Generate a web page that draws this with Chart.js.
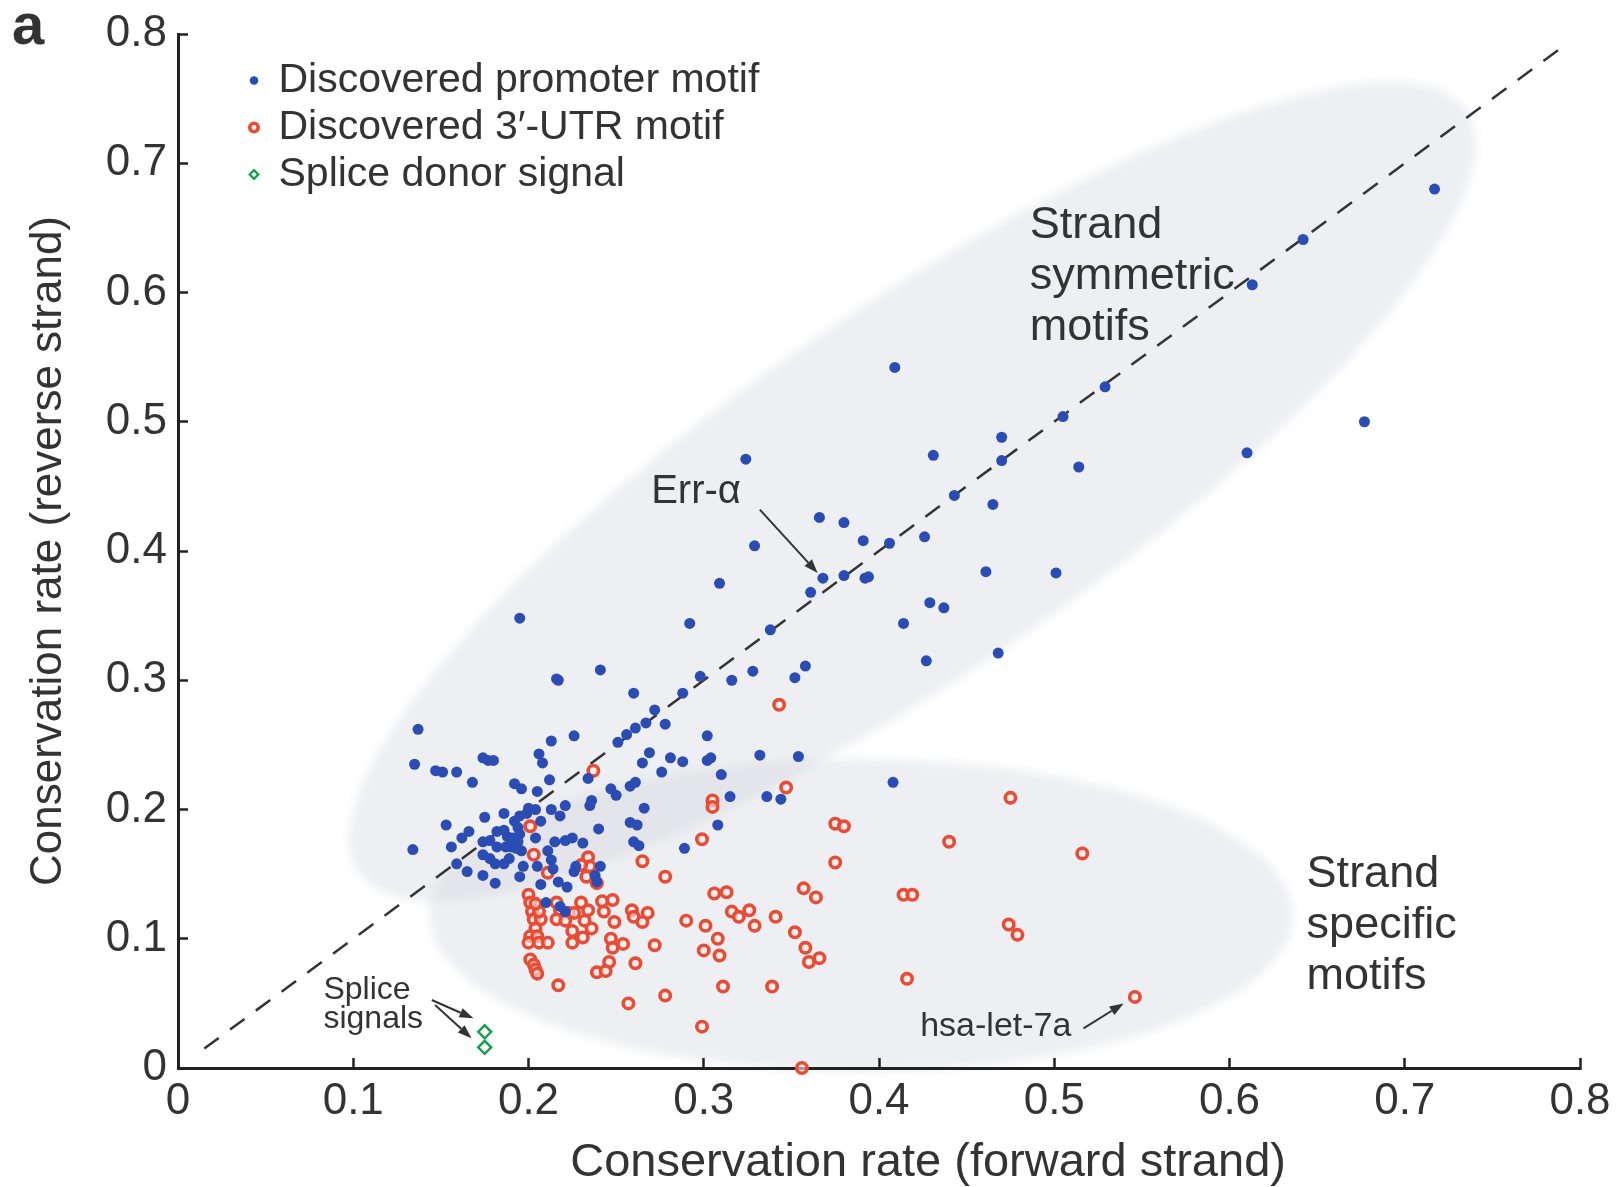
<!DOCTYPE html>
<html>
<head>
<meta charset="utf-8">
<script src="https://cdn.jsdelivr.net/npm/chart.js@4.4.1/dist/chart.umd.min.js"></script>
<style>
  html, body { margin: 0; padding: 0; background: #fff; }
</style>
</head>
<body>
<canvas id="myChart" width="1623" height="1187"></canvas>
<script>
///// conservation scatter

const tickValues = [0, 0.1, 0.2, 0.3, 0.4, 0.5, 0.6, 0.7, 0.8];
const seriesNames = ['Discovered promoter motif', 'Discovered 3\u2032-UTR motif', 'Splice donor signal'];

const promoterMotif = [
  [0.717, 0.680], [0.642, 0.641], [0.613, 0.606], [0.529, 0.527], [0.505, 0.504], [0.470, 0.488],
  [0.470, 0.470], [0.514, 0.465], [0.610, 0.476], [0.677, 0.500], [0.501, 0.383],
  [0.409, 0.542], [0.324, 0.471], [0.431, 0.474], [0.443, 0.443], [0.465, 0.436], [0.366, 0.426],
  [0.380, 0.422], [0.391, 0.408], [0.406, 0.406], [0.426, 0.411], [0.329, 0.404], [0.368, 0.379],
  [0.361, 0.368], [0.380, 0.381], [0.392, 0.379], [0.394, 0.380], [0.461, 0.384], [0.309, 0.375],
  [0.195, 0.348], [0.292, 0.344], [0.429, 0.360], [0.437, 0.356], [0.414, 0.344], [0.338, 0.339],
  [0.427, 0.315], [0.468, 0.321], [0.216, 0.301], [0.217, 0.300], [0.241, 0.308], [0.298, 0.303],
  [0.328, 0.307], [0.358, 0.311], [0.352, 0.302], [0.316, 0.300], [0.260, 0.290], [0.288, 0.290],
  [0.137, 0.262], [0.213, 0.253], [0.226, 0.257], [0.251, 0.252], [0.256, 0.258], [0.261, 0.263],
  [0.267, 0.267], [0.272, 0.277], [0.278, 0.266], [0.302, 0.257], [0.269, 0.244], [0.265, 0.236],
  [0.281, 0.240], [0.288, 0.237], [0.276, 0.229], [0.266, 0.201], [0.289, 0.170],
  [0.332, 0.242], [0.354, 0.241], [0.302, 0.238], [0.304, 0.240], [0.310, 0.227], [0.315, 0.210],
  [0.336, 0.210], [0.344, 0.208], [0.308, 0.188], [0.408, 0.221],
  [0.135, 0.235], [0.147, 0.230], [0.151, 0.229], [0.159, 0.229], [0.168, 0.221], [0.174, 0.240],
  [0.177, 0.238], [0.180, 0.238], [0.206, 0.243], [0.208, 0.236], [0.212, 0.223], [0.192, 0.220],
  [0.196, 0.216], [0.205, 0.214], [0.234, 0.224], [0.236, 0.207], [0.235, 0.203], [0.221, 0.203],
  [0.213, 0.200], [0.218, 0.195], [0.247, 0.216], [0.250, 0.211], [0.258, 0.218], [0.261, 0.221],
  [0.258, 0.190], [0.262, 0.188], [0.260, 0.175], [0.263, 0.172], [0.240, 0.185], [0.241, 0.156],
  [0.238, 0.149], [0.239, 0.144],
  [0.186, 0.197], [0.175, 0.194], [0.153, 0.188], [0.134, 0.169], [0.156, 0.171], [0.162, 0.178],
  [0.166, 0.183], [0.159, 0.158], [0.165, 0.152], [0.174, 0.149], [0.181, 0.143], [0.174, 0.175],
  [0.178, 0.176], [0.182, 0.183], [0.186, 0.184], [0.188, 0.179], [0.182, 0.171], [0.187, 0.171],
  [0.190, 0.171], [0.174, 0.165], [0.178, 0.162], [0.181, 0.158], [0.186, 0.158], [0.189, 0.162],
  [0.192, 0.191], [0.195, 0.195], [0.194, 0.186], [0.191, 0.178], [0.194, 0.175], [0.195, 0.181],
  [0.199, 0.197], [0.200, 0.201], [0.204, 0.200], [0.207, 0.191], [0.193, 0.170], [0.196, 0.168],
  [0.197, 0.156], [0.195, 0.148], [0.204, 0.178], [0.211, 0.168], [0.215, 0.175], [0.221, 0.176],
  [0.225, 0.178], [0.231, 0.174], [0.213, 0.161], [0.214, 0.154], [0.205, 0.156], [0.207, 0.142],
  [0.217, 0.144], [0.222, 0.140], [0.226, 0.152], [0.227, 0.156], [0.210, 0.128], [0.218, 0.125],
  [0.221, 0.121],
];

const utrMotif = [
  [0.237, 0.230], [0.201, 0.187],
  [0.203, 0.165], [0.211, 0.151], [0.234, 0.163], [0.235, 0.156], [0.233, 0.148], [0.239, 0.143],
  [0.230, 0.157], [0.265, 0.160], [0.278, 0.148],
  [0.200, 0.134], [0.201, 0.128], [0.202, 0.121], [0.203, 0.115], [0.204, 0.108], [0.201, 0.102],
  [0.205, 0.102], [0.200, 0.097], [0.206, 0.097], [0.211, 0.097], [0.207, 0.115], [0.206, 0.121],
  [0.204, 0.127], [0.201, 0.084], [0.203, 0.080], [0.204, 0.076], [0.205, 0.073], [0.217, 0.064],
  [0.216, 0.128], [0.218, 0.122], [0.216, 0.115], [0.223, 0.120], [0.221, 0.114], [0.226, 0.120],
  [0.230, 0.128], [0.234, 0.122], [0.232, 0.114], [0.236, 0.108], [0.231, 0.101], [0.225, 0.097],
  [0.225, 0.106], [0.242, 0.129], [0.248, 0.130], [0.243, 0.121], [0.249, 0.113], [0.247, 0.100],
  [0.254, 0.096], [0.248, 0.093], [0.246, 0.082], [0.239, 0.074], [0.244, 0.075], [0.259, 0.122],
  [0.260, 0.117], [0.265, 0.113], [0.268, 0.120], [0.261, 0.081], [0.272, 0.095], [0.257, 0.050],
  [0.278, 0.056], [0.290, 0.114],
  [0.343, 0.281], [0.347, 0.217], [0.305, 0.207], [0.305, 0.202], [0.299, 0.177], [0.475, 0.209],
  [0.375, 0.189], [0.380, 0.187], [0.440, 0.175], [0.516, 0.166], [0.375, 0.159], [0.306, 0.135],
  [0.313, 0.136], [0.357, 0.139], [0.364, 0.132], [0.414, 0.134], [0.419, 0.134], [0.316, 0.121],
  [0.320, 0.117], [0.326, 0.122], [0.341, 0.117], [0.301, 0.110], [0.329, 0.110], [0.352, 0.105],
  [0.474, 0.111], [0.479, 0.103], [0.308, 0.100], [0.358, 0.093], [0.300, 0.091], [0.309, 0.087],
  [0.360, 0.082], [0.366, 0.085], [0.416, 0.069], [0.311, 0.063], [0.339, 0.063], [0.546, 0.055],
  [0.299, 0.032], [0.356, 0.0],
];

const spliceDonor = [[0.175, 0.028], [0.175, 0.016]];
const diagonal = [0.015, 0.79];

const toXY = (arr) => arr.map(([x, y]) => ({ x, y }));

// shaded groups, given by the two ends of the long axis (data units) and minor/major ratio
const regions = [
  { from: [0.103, 0.151], to: [0.735, 0.741], ratio: 0.27 },
  { from: [0.1434, 0.118], to: [0.636, 0.118], ratio: 0.362 },
];

const notes = [
  { lines: ['Err-\u03b1'], at: [0.270, 0.446], size: 40, gap: 0 },
  { lines: ['Strand', 'symmetric', 'motifs'], at: [0.486, 0.652], size: 45, gap: 51 },
  { lines: ['Strand', 'specific', 'motifs'], at: [0.644, 0.150], size: 45, gap: 51 },
  { lines: ['Splice', 'signals'], at: [0.083, 0.060], size: 32, gap: 29 },
  { lines: ['hsa-let-7a'], at: [0.4235, 0.032], size: 34, gap: 0 },
];

const arrows = [
  { from: [0.332, 0.432], to: [0.365, 0.383] },
  { from: [0.1448, 0.0526], to: [0.1686, 0.0384] },
  { from: [0.1467, 0.0487], to: [0.1675, 0.0230] },
  { from: [0.5167, 0.0307], to: [0.5396, 0.0500] },
];

const ink = '#333';
Chart.defaults.font.family = '"Liberation Sans", Arial, sans-serif';
Chart.defaults.color = ink;

const backdrop = {
  id: 'backdrop',
  beforeDraw(chart) {
    const { ctx, scales: { x, y } } = chart;
    ctx.save();
    ctx.fillStyle = '#fff';
    ctx.fillRect(0, 0, chart.width, chart.height);
    ctx.filter = 'blur(5px)';
    ctx.fillStyle = 'rgba(208,210,218,0.36)';
    regions.forEach((r) => {
      const x1 = x.getPixelForValue(r.from[0]), y1 = y.getPixelForValue(r.from[1]);
      const x2 = x.getPixelForValue(r.to[0]), y2 = y.getPixelForValue(r.to[1]);
      const a = Math.hypot(x2 - x1, y2 - y1) / 2;
      ctx.beginPath();
      ctx.ellipse((x1 + x2) / 2, (y1 + y2) / 2, a, a * r.ratio, Math.atan2(y2 - y1, x2 - x1), 0, Math.PI * 2);
      ctx.fill();
    });
    ctx.restore();
  },
};

const annotate = {
  id: 'annotate',
  afterDatasetsDraw(chart) {
    const { ctx, chartArea, scales: { x, y } } = chart;
    ctx.save();
    ctx.fillStyle = ink;
    ctx.textBaseline = 'middle';
    ctx.textAlign = 'left';
    notes.forEach((n) => {
      ctx.font = n.size + 'px "Liberation Sans", Arial, sans-serif';
      const px = x.getPixelForValue(n.at[0]);
      const py = y.getPixelForValue(n.at[1]);
      n.lines.forEach((t, i) => ctx.fillText(t, px, py + i * n.gap));
    });

    ctx.strokeStyle = ink;
    ctx.lineWidth = 2;
    arrows.forEach((a) => {
      const x1 = x.getPixelForValue(a.from[0]), y1 = y.getPixelForValue(a.from[1]);
      const x2 = x.getPixelForValue(a.to[0]), y2 = y.getPixelForValue(a.to[1]);
      const ang = Math.atan2(y2 - y1, x2 - x1);
      const hx = x2 - 14 * Math.cos(ang), hy = y2 - 14 * Math.sin(ang);
      ctx.beginPath();
      ctx.moveTo(x1, y1);
      ctx.lineTo(hx, hy);
      ctx.stroke();
      ctx.beginPath();
      ctx.moveTo(x2, y2);
      ctx.lineTo(hx + 5 * Math.sin(ang), hy - 5 * Math.cos(ang));
      ctx.lineTo(hx - 5 * Math.sin(ang), hy + 5 * Math.cos(ang));
      ctx.closePath();
      ctx.fill();
    });

    // x axis title and panel letter
    ctx.textAlign = 'center';
    ctx.font = '47px "Liberation Sans", Arial, sans-serif';
    ctx.fillText('Conservation rate (forward strand)', x.getPixelForValue(0.428), chartArea.bottom + 95);
    ctx.textAlign = 'left';
    ctx.textBaseline = 'alphabetic';
    ctx.font = 'bold 58px "Liberation Sans", Arial, sans-serif';
    ctx.fillText('a', 12, 44);
    ctx.restore();
  },
};

// legend sits inside the plot, nudged to the top left corner
const legendSpot = {
  id: 'legendSpot',
  afterLayout(chart) {
    const lg = chart.legend;
    const ca = chart.chartArea;
    lg.left = ca.left + 66;
    lg.top = ca.top + 20;
    lg.right = lg.left + lg.width;
    lg.bottom = lg.top + lg.height;
  },
};

const axisTicks = (size, padding) => ({
  font: { size, lineHeight: 1.2 },
  padding,
  color: ink,
  autoSkip: false,
  maxRotation: 0,
  callback: (v) => String(v),
});

const axisGrid = {
  drawOnChartArea: false,
  drawTicks: true,
  tickLength: -10,
  tickWidth: 2.5,
  tickColor: '#222',
};

const ctx = document.querySelector('#myChart').getContext('2d');

const config = {
  type: 'scatter',
  data: {
    datasets: [
      {
        label: seriesNames[0],
        data: toXY(promoterMotif),
        pointStyle: 'circle',
        pointRadius: 5.5,
        borderWidth: 0,
        backgroundColor: '#2b4cb3',
        borderColor: '#2b4cb3',
        order: 0,
      },
      {
        label: seriesNames[1],
        data: toXY(utrMotif),
        pointStyle: 'circle',
        pointRadius: 5.2,
        borderWidth: 3.6,
        backgroundColor: 'rgba(255,235,230,0.6)',
        borderColor: '#e64c36',
        clip: false,
        order: 0,
      },
      {
        label: seriesNames[2],
        data: toXY(spliceDonor),
        pointStyle: 'rectRot',
        pointRadius: 6.5,
        borderWidth: 2.4,
        backgroundColor: 'rgba(255,255,255,0.7)',
        borderColor: '#13a04e',
        order: 0,
      },
      {
        type: 'line',
        label: 'y = x',
        data: diagonal.map((v) => ({ x: v, y: v })),
        showLine: true,
        borderColor: ink,
        borderWidth: 2.5,
        borderDash: [18, 14],
        pointRadius: 0,
        fill: false,
        order: 5,
      },
    ],
  },
  options: {
    responsive: false,
    animation: false,
    layout: { padding: { top: 34, right: 43, left: 0, bottom: 0 } },
    scales: {
      x: {
        type: 'linear',
        min: 0,
        max: 0.8,
        afterBuildTicks: (s) => { s.ticks = tickValues.map((v) => ({ value: v })); },
        afterFit: (s) => { s.height = 119; s.paddingLeft = 0; s.paddingRight = 0; },
        ticks: axisTicks(44, 17),
        grid: axisGrid,
        border: { display: true, color: '#222', width: 3 },
      },
      y: {
        type: 'linear',
        min: 0,
        max: 0.8,
        afterBuildTicks: (s) => { s.ticks = tickValues.map((v) => ({ value: v })); },
        afterFit: (s) => { s.width = 178; s.paddingTop = 0; s.paddingBottom = 0; },
        ticks: axisTicks(44, 21),
        grid: axisGrid,
        border: { display: true, color: '#222', width: 3 },
        title: {
          display: true,
          text: 'Conservation rate (reverse strand)',
          font: { size: 44, lineHeight: 1 },
          padding: { top: 27, bottom: 0 },
          color: ink,
        },
      },
    },
    plugins: {
      legend: {
        position: 'chartArea',
        align: 'start',
        labels: {
          usePointStyle: true,
          boxWidth: 8,
          boxHeight: 6,
          padding: 6,
          color: ink,
          font: { size: 41 },
          filter: (item) => item.datasetIndex < 3,
        },
      },
      tooltip: { enabled: false },
    },
  },
  plugins: [backdrop, legendSpot, annotate],
};

const myChart = new Chart(ctx, config);
</script>
</body>
</html>
